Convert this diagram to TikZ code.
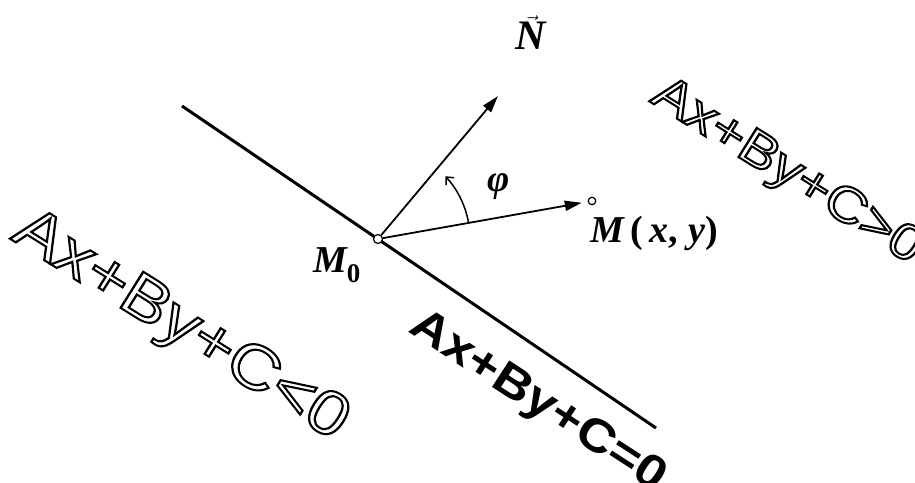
\documentclass[tikz,border=0pt]{standalone}
\usepackage{fontspec}
\setmainfont{Liberation Serif}
\newfontfamily\arialfont{Liberation Sans}
\usetikzlibrary{arrows.meta}
\newcommand{\outlined}[1]{\special{pdf:literal direct q 1 Tr 2 w}#1\special{pdf:literal direct Q}}

\begin{document}
\begin{tikzpicture}[x=1pt,y=1pt]
\tikzset{
  point/.style={circle,draw,fill=white,line width=1.2pt,minimum size=9pt,inner sep=0pt},
  vector/.style={-{Triangle[length=17pt,width=10pt]},line width=1.8pt},
  anglearrow/.style={-{Straight Barb[length=6pt,width=11pt]},line width=1.5pt},
  lbl/.style={inner sep=0pt,font=\fontsize{38}{38}\selectfont\bfseries\itshape},
  hollow/.style={inner sep=0pt,xscale=1.15}
}
\useasboundingbox (0,0) rectangle (915,482);
\coordinate (n_L1) at (182,376);
\coordinate (n_L2) at (656,54);
\coordinate (n_Ntip) at (498,386);
\draw[line width=3pt] (n_L1) -- (n_L2);
\node[point] (n_M0) at (378,243) {};
\node[point,minimum size=7.5pt] (n_M) at (592,281) {};
\draw[vector] (n_M0) -- (n_Ntip);
\draw[vector,shorten >=6pt] (n_M0) -- (n_M);
\draw[anglearrow] ([shift={(10.1:92)}]n_M0.center) arc[start angle=10.1,end angle=43,radius=92];
% labels
\node[lbl,anchor=base,font=\fontsize{42}{42}\selectfont\bfseries\itshape] (t_N) at (531,432)
  {\ensuremath{\vec{\hbox{\fontsize{42}{42}\selectfont\bfseries\itshape N}}}};
\node[lbl,anchor=base] (t_phi) at (499,290) {φ};
\node[lbl,anchor=base west] (t_M) at (590,239) {M\,\upshape(\itshape\,x\upshape,\;\itshape y\upshape)};
\node[lbl,anchor=base west] (t_M0) at (313,209) {M\raisebox{-0.25em}{\upshape\fontsize{27}{27}\selectfont 0}};
% the three sides
\node[anchor=base,rotate=-32,hollow,font=\arialfont\fontsize{62}{62}\selectfont] (t_neg) at (172,142)
  {\outlined{Ax+By+C<0}};
\node[anchor=base,rotate=-32,hollow,font=\arialfont\fontsize{50}{50}\selectfont] (t_pos) at (780,299)
  {\outlined{Ax+By+C>0}};
\node[anchor=base,rotate=-33,hollow,font=\arialfont\bfseries\fontsize{46}{46}\selectfont] (t_zero) at (531,70)
  {Ax+By+C=0};
\end{tikzpicture}
\end{document}
